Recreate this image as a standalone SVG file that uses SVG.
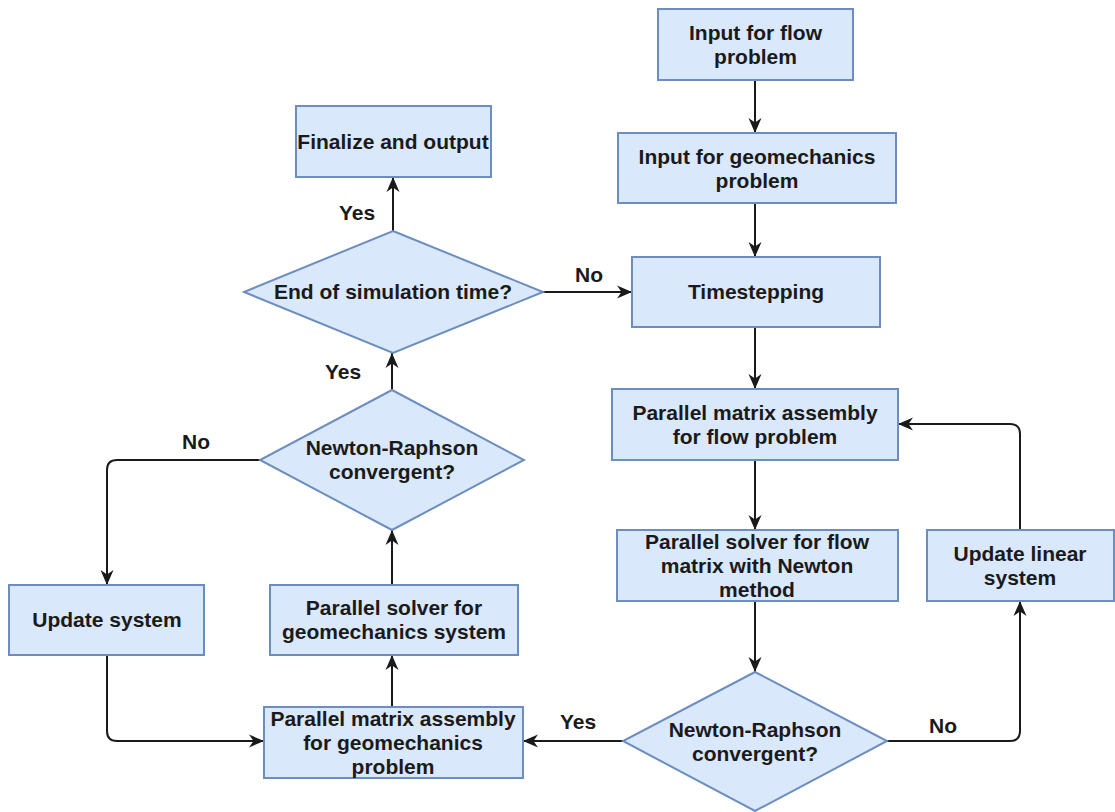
<svg xmlns="http://www.w3.org/2000/svg" width="1115" height="812" viewBox="0 0 1115 812">
<style>
.box{fill:#dae8fc;stroke:#6c8ebf;stroke-width:2}
.t{font-family:"Liberation Sans",Arial,sans-serif;font-weight:bold;font-size:21px;fill:#1a1a1a;text-anchor:middle}
.c{fill:none;stroke:#1a1a1a;stroke-width:2;marker-end:url(#arr)}
</style>
<defs>
<marker id="arr" markerUnits="userSpaceOnUse" markerWidth="16" markerHeight="16" viewBox="0 0 16 16" refX="15" refY="8" orient="auto">
<path d="M0,1.5 L15,8 L0,14.5 L4.5,8 z" fill="#1a1a1a"/>
</marker>
</defs>
<rect width="1115" height="812" fill="#ffffff"/>
<g id="connectors">
<path class="c" d="M755,80 V133"/>
<path class="c" d="M755,203 V257"/>
<path class="c" d="M755,327 V389"/>
<path class="c" d="M755,460 V530"/>
<path class="c" d="M755,601 V672"/>
<path class="c" d="M887,741 H1010 Q1020,741 1020,731 V601"/>
<path class="c" d="M1020,530 V434 Q1020,424 1010,424 H898"/>
<path class="c" d="M623,741 H523"/>
<path class="c" d="M392,707 V655"/>
<path class="c" d="M392,585 V530"/>
<path class="c" d="M392,390 V353"/>
<path class="c" d="M393,231 V177"/>
<path class="c" d="M543,292 H632"/>
<path class="c" d="M260,460 H117 Q107,460 107,470 V585"/>
<path class="c" d="M107,655 V731 Q107,741 117,741 H264"/>
<text class="t" x="357" y="220">Yes</text>
<text class="t" x="589" y="282">No</text>
<text class="t" x="343" y="379">Yes</text>
<text class="t" x="196" y="449">No</text>
<text class="t" x="578" y="729">Yes</text>
<text class="t" x="943" y="733">No</text>
</g>
<g id="input-flow">
<rect class="box" x="658" y="9" width="195" height="71"/>
<text class="t" x="755.5" y="40">Input for flow</text>
<text class="t" x="755.5" y="64">problem</text>
</g>
<g id="input-geo">
<rect class="box" x="618" y="133" width="278" height="70"/>
<text class="t" x="757" y="164">Input for geomechanics</text>
<text class="t" x="757" y="188">problem</text>
</g>
<g id="timestepping">
<rect class="box" x="632" y="257" width="248" height="70"/>
<text class="t" x="756" y="299">Timestepping</text>
</g>
<g id="assembly-flow">
<rect class="box" x="612" y="389" width="286" height="71"/>
<text class="t" x="755" y="420">Parallel matrix assembly</text>
<text class="t" x="755" y="444">for flow problem</text>
</g>
<g id="solver-flow">
<rect class="box" x="617" y="530" width="281" height="71"/>
<text class="t" x="757" y="549">Parallel solver for flow</text>
<text class="t" x="757" y="573">matrix with Newton</text>
<text class="t" x="757" y="597">method</text>
</g>
<g id="nr-flow">
<polygon class="box" points="755,672 887,741 755,811 623,741"/>
<text class="t" x="755" y="737">Newton-Raphson</text>
<text class="t" x="755" y="761">convergent?</text>
</g>
<g id="update-linear">
<rect class="box" x="927" y="530" width="187" height="71"/>
<text class="t" x="1020" y="561">Update linear</text>
<text class="t" x="1020" y="585">system</text>
</g>
<g id="assembly-geo">
<rect class="box" x="264" y="707" width="259" height="71"/>
<text class="t" x="393" y="726">Parallel matrix assembly</text>
<text class="t" x="393" y="750">for geomechanics</text>
<text class="t" x="393" y="774">problem</text>
</g>
<g id="solver-geo">
<rect class="box" x="270" y="585" width="248" height="70"/>
<text class="t" x="394" y="615">Parallel solver for</text>
<text class="t" x="394" y="639">geomechanics system</text>
</g>
<g id="nr-geo">
<polygon class="box" points="392,390 524,460 392,530 260,460"/>
<text class="t" x="392" y="455">Newton-Raphson</text>
<text class="t" x="392" y="479">convergent?</text>
</g>
<g id="update-system">
<rect class="box" x="9" y="585" width="195" height="70"/>
<text class="t" x="107" y="627">Update system</text>
</g>
<g id="end-sim">
<polygon class="box" points="393,231 543,292 393,353 244,292"/>
<text class="t" x="393" y="299">End of simulation time?</text>
</g>
<g id="finalize">
<rect class="box" x="296" y="106" width="195" height="71"/>
<text class="t" x="393" y="149">Finalize and output</text>
</g>
</svg>
